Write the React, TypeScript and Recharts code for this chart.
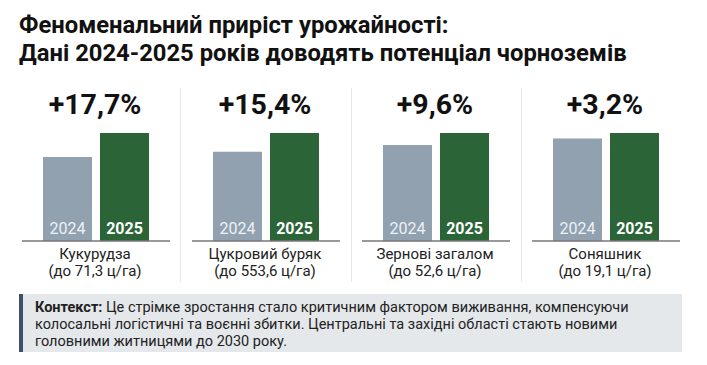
import React from 'react';
import { BarChart, Bar, XAxis, YAxis, LabelList } from 'recharts';

// values; 2025 bar = 100, 2024 bar relative to it
const crops = ['Кукурудза', 'Цукровий буряк', 'Зернові загалом', 'Соняшник'];
const limits = ['(до 71,3 ц/га)', '(до 553,6 ц/га)', '(до 52,6 ц/га)', '(до 19,1 ц/га)'];
const growth = ['+17,7%', '+15,4%', '+9,6%', '+3,2%'];
const index2024 = [77.8, 82.6, 89.0, 94.9];
const index2025 = [100, 100, 100, 100];
const years = ['2024', '2025'];

const FONT = 'Roboto, "Noto Sans", sans-serif';
const GRAY = '#91a1b0';
const GREEN = '#2b6537';

const YearLabel = (year: string, bold: boolean) => (props: any) => {
  const { x, y, width, height } = props;
  return (
    <text
      x={x + width / 2}
      y={y + height - 7}
      textAnchor="middle"
      fontFamily={FONT}
      fontSize={16}
      fontWeight={bold ? 700 : 400}
      fill={bold ? '#ffffff' : '#eef2f5'}
    >
      {year}
    </text>
  );
};

function Panel({ i }: { i: number }) {
  const data = [{ name: crops[i], y2024: index2024[i], y2025: index2025[i] }];
  const left = 10 + i * 170;
  return (
    <div style={{ position: 'absolute', left, top: 0, width: 170, height: 300 }}>
      <div
        style={{
          position: 'absolute', top: 88, left: 0, width: 170, textAlign: 'center',
          fontFamily: FONT, fontWeight: 700, fontSize: 28.5, lineHeight: '34px', color: '#111',
        }}
      >
        {growth[i]}
      </div>
      <div style={{ position: 'absolute', top: 120, left: 0 }}>
        <BarChart
          width={170}
          height={123}
          data={data}
          margin={{ top: 13, right: 10, left: 12, bottom: 0 }}
          barGap={8}
        >
          <XAxis dataKey="name" tick={false} tickLine={false} height={2}
            axisLine={{ stroke: '#777', strokeWidth: 1.5 }} />
          <YAxis hide domain={[0, 100]} />
          <Bar dataKey="y2024" fill={GRAY} barSize={49} isAnimationActive={false}>
            <LabelList dataKey="y2024" content={YearLabel(years[0], false)} />
          </Bar>
          <Bar dataKey="y2025" fill={GREEN} barSize={49} isAnimationActive={false}>
            <LabelList dataKey="y2025" content={YearLabel(years[1], true)} />
          </Bar>
        </BarChart>
      </div>
      <div
        style={{
          position: 'absolute', top: 246, left: 0, width: 170, textAlign: 'center',
          fontFamily: FONT, fontSize: 15, lineHeight: '17px', color: '#222',
        }}
      >
        {crops[i]}
        <br />
        {limits[i]}
      </div>
    </div>
  );
}

export default function App() {
  return (
    <div style={{ position: 'fixed', left: 0, top: 0, width: 707, height: 365, background: '#fff', overflow: 'hidden' }}>
      <div
        style={{
          position: 'absolute', left: 19, top: 11, fontFamily: FONT, fontWeight: 700,
          fontSize: 23.8, lineHeight: '28px', color: '#111', whiteSpace: 'nowrap',
        }}
      >
        Феноменальний приріст урожайності:
        <br />
        Дані 2024-2025 років доводять потенціал чорноземів
      </div>
      {[180, 351, 521].map((x) => (
        <div key={x} style={{ position: 'absolute', left: x, top: 88, width: 1, height: 194, background: '#e8e8e8' }} />
      ))}
      {crops.map((_, i) => (
        <Panel key={i} i={i} />
      ))}
      <div
        style={{
          position: 'absolute', left: 19, top: 294, width: 663, height: 58, boxSizing: 'border-box',
          background: '#e5e8eb', borderLeft: '4px solid #3e5068', padding: '5px 0 0 12px',
          fontFamily: FONT, fontSize: 14.5, lineHeight: '17px', color: '#222', whiteSpace: 'nowrap',
        }}
      >
        <b>Контекст:</b> Це стрімке зростання стало критичним фактором виживання, компенсуючи
        <br />
        колосальні логістичні та воєнні збитки. Центральні та західні області стають новими
        <br />
        головними житницями до 2030 року.
      </div>
    </div>
  );
}
